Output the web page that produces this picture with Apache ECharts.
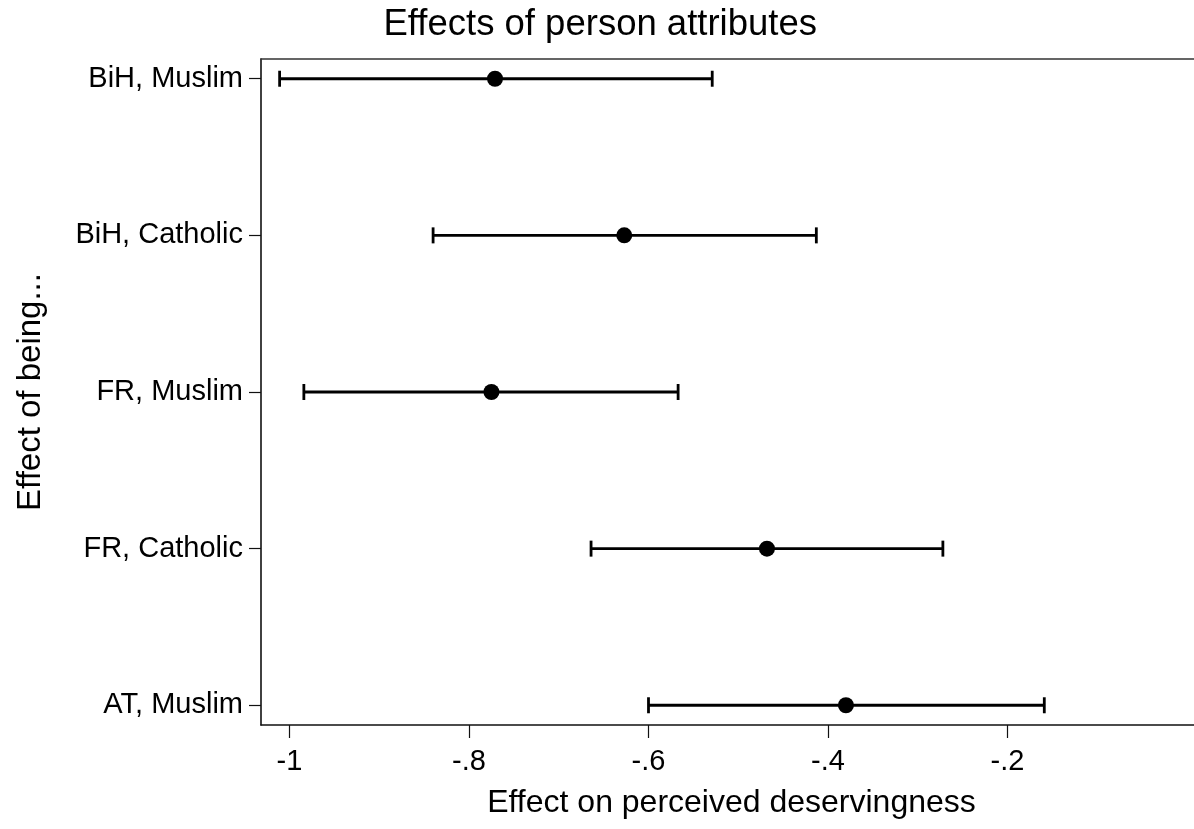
<!DOCTYPE html>
<html>
<head>
<meta charset="utf-8">
<script src="https://cdn.jsdelivr.net/npm/echarts@6/dist/echarts.min.js"></script>
<style>
  html, body { margin: 0; padding: 0; background: #fff; }
  #chart { width: 1194px; height: 829px; }
</style>
</head>
<body>
<div id="chart"></div>
<script>
// ---- data ----
const categories = ['BiH, Muslim', 'BiH, Catholic', 'FR, Muslim', 'FR, Catholic', 'AT, Muslim'];
const estimates  = [-0.771, -0.627, -0.775, -0.468, -0.380];
const lowerCI    = [-1.011, -0.840, -0.984, -0.664, -0.600];
const upperCI    = [-0.529, -0.413, -0.567, -0.272, -0.159];
const xTickValues = [-1, -0.8, -0.6, -0.4, -0.2];
const xTickLabels = ['-1', '-.8', '-.6', '-.4', '-.2'];

const FONT = 'Arial, "Liberation Sans", sans-serif';
const n = categories.length;
const yPos = categories.map((c, i) => n - 1 - i);

const barData = categories.map((c, i) => [yPos[i], lowerCI[i], upperCI[i]]);
const dotData = categories.map((c, i) => [estimates[i], yPos[i]]);

const chart = echarts.init(document.getElementById('chart'), null, { renderer: 'canvas' });

chart.setOption({
  animation: false,
  backgroundColor: '#ffffff',
  title: {
    text: 'Effects of person attributes',
    right: 372,
    top: 1,
    textStyle: { fontFamily: FONT, fontSize: 36.5, fontWeight: 'normal', color: '#000' }
  },
  grid: { left: 261, right: 0, top: 59, bottom: 104, containLabel: false, outerBoundsMode: 'none' },
  xAxis: [{
    type: 'value',
    min: -1.03175,
    max: 0.0078,
    name: 'Effect on perceived deservingness',
    nameLocation: 'middle',
    nameGap: 62,
    nameTextStyle: { fontFamily: FONT, fontSize: 32, color: '#000', padding: [0, 0, 0, 8] },
    axisLine: { show: true, onZero: false, lineStyle: { color: '#111', width: 1.6 } },
    axisTick: { show: true, length: 13, customValues: xTickValues, lineStyle: { color: '#111', width: 1.2 } },
    axisLabel: {
      show: true,
      customValues: xTickValues,
      margin: 22,
      fontFamily: FONT, fontSize: 29, color: '#000',
      formatter: function (v) {
        for (let k = 0; k < xTickValues.length; k++) {
          if (Math.abs(xTickValues[k] - v) < 1e-6) return xTickLabels[k];
        }
        return '';
      }
    },
    splitLine: { show: false }
  }, {
    type: 'value',
    position: 'top',
    min: -1.03175,
    max: 0.0078,
    axisLine: { show: true, onZero: false, lineStyle: { color: '#333', width: 1.6 } },
    axisTick: { show: false },
    axisLabel: { show: false },
    splitLine: { show: false }
  }],
  yAxis: {
    type: 'value',
    min: -0.126,
    max: 4.126,
    name: 'Effect of being...',
    nameLocation: 'middle',
    nameRotate: 90,
    nameGap: 214,
    nameTextStyle: { fontFamily: FONT, fontSize: 33, color: '#000' },
    axisLine: { show: true, onZero: false, lineStyle: { color: '#111', width: 1.6 } },
    axisTick: { show: true, length: 12, customValues: yPos, lineStyle: { color: '#111', width: 1.2 } },
    axisLabel: {
      show: true,
      customValues: yPos,
      margin: 18,
      fontFamily: FONT, fontSize: 29, color: '#000',
      formatter: function (v) {
        const idx = n - 1 - Math.round(v);
        return categories[idx] || '';
      }
    },
    splitLine: { show: false }
  },
  series: [{
    type: 'custom',
    xAxisIndex: 0,
    data: barData,
    encode: { x: [1, 2], y: 0 },
    renderItem: function (params, api) {
      const y = api.value(0);
      const p1 = api.coord([api.value(1), y]);
      const p2 = api.coord([api.value(2), y]);
      const h = 8;
      const style = { stroke: '#000', lineWidth: 2.8 };
      return {
        type: 'group',
        children: [
          { type: 'line', shape: { x1: p1[0], y1: p1[1], x2: p2[0], y2: p2[1] }, style: style },
          { type: 'line', shape: { x1: p1[0], y1: p1[1] - h, x2: p1[0], y2: p1[1] + h }, style: style },
          { type: 'line', shape: { x1: p2[0], y1: p2[1] - h, x2: p2[0], y2: p2[1] + h }, style: style }
        ]
      };
    },
    z: 2
  }, {
    type: 'scatter',
    xAxisIndex: 0,
    data: dotData,
    symbol: 'circle',
    symbolSize: 16,
    itemStyle: { color: '#000', opacity: 1 },
    z: 3
  }]
});
</script>
</body>
</html>
